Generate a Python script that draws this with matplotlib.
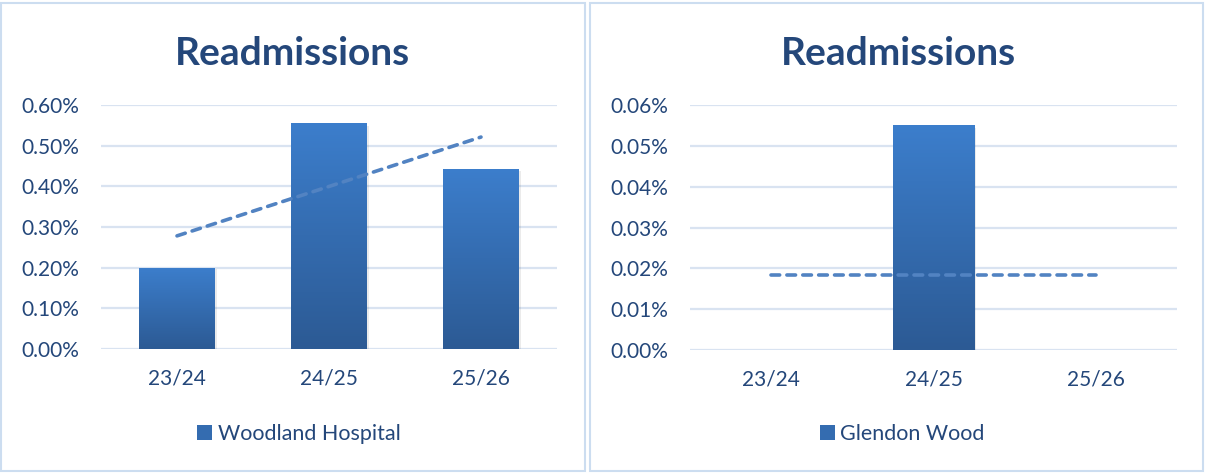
import matplotlib.pyplot as plt
import numpy as np
from matplotlib.patches import Rectangle, Patch
from matplotlib.ticker import FuncFormatter, MultipleLocator

plt.rcParams['font.family'] = ['Lato', 'DejaVu Sans']

# readmission rates, in percent
years = ['23/24', '24/25', '25/26']
woodland = [0.200, 0.556, 0.443]
glendon = [0.0, 0.0551, 0.0]

TEXT = '#24477A'
GRID = '#D9E3F1'
BORDER = '#CCDDF0'
TREND = '#5283C2'
BAR_TOP = np.array([0x3C, 0x7E, 0xCC]) / 255
BAR_BOT = np.array([0x2C, 0x5A, 0x94]) / 255
W, H = 1205, 473


def gradient_bars(ax, x, values, width=0.5):
    bars = ax.bar(x, values, width=width, color='none', zorder=2)
    grad = np.linspace(0, 1, 256)[:, None, None]
    img = BAR_TOP * (1 - grad) + BAR_BOT * grad
    for bar in bars:
        h = bar.get_height()
        if h <= 0:
            continue
        x0 = bar.get_x()
        # faint drop shadow on the right and bottom edges
        ax.add_patch(Rectangle((x0 + 0.012, -h * 0.012), bar.get_width(), h,
                               color='#000000', alpha=0.08, zorder=1.5,
                               lw=0))
        im = ax.imshow(img, extent=(x0, x0 + bar.get_width(), 0, h),
                       aspect='auto', origin='upper', zorder=2)
        im.set_clip_path(bar)
    return bars


def draw_panel(fig, rect, values, step, ymax, label, legend_x):
    ax = fig.add_axes(rect)
    x = np.arange(len(years))
    gradient_bars(ax, x, values)

    # linear trend line across the categories
    slope, intercept = np.polyfit(x, values, 1)
    ax.plot(x[[0, -1]], slope * x[[0, -1]] + intercept, color=TREND,
            lw=2.6, ls=(0, (2.4, 2.0)), dash_capstyle='round', zorder=3)

    ax.set_xlim(-0.5, len(years) - 0.5)
    ax.set_ylim(0, ymax)
    ax.yaxis.set_major_locator(MultipleLocator(step))
    ax.yaxis.set_major_formatter(FuncFormatter(lambda v, _: f'{v:.2f}%'))
    ax.grid(axis='y', color=GRID, lw=1.6, zorder=0)
    ax.set_axisbelow(True)
    for s in ax.spines.values():
        s.set_visible(False)
    ax.set_xticks(x, years)
    ax.tick_params(axis='y', length=0, pad=16, labelsize=15,
                   labelcolor=TEXT)
    ax.tick_params(axis='x', length=0, pad=14, labelsize=15,
                   labelcolor=TEXT)

    handle = Patch(facecolor=(BAR_TOP + BAR_BOT) / 2, edgecolor='none')
    fig.legend([handle], [label], loc='center',
               bbox_to_anchor=(legend_x / W, 39 / H),
               frameon=False, fontsize=15.5, labelcolor=TEXT,
               handlelength=0.7, handleheight=0.7, handletextpad=0.25)
    return ax


fig = plt.figure(figsize=(12.05, 4.73), dpi=100)

# panel frames
for x0, x1 in [(1, 585), (590, 1203)]:
    fig.patches.append(Rectangle((x0 / W, 2 / H), (x1 - x0) / W, 468 / H,
                                 transform=fig.transFigure, fill=False,
                                 edgecolor=BORDER, lw=1.5))

fig.text(292 / W, 420 / H, 'Readmissions', ha='center', va='center',
         fontsize=28, fontweight='bold', color=TEXT)
fig.text(898 / W, 420 / H, 'Readmissions', ha='center', va='center',
         fontsize=28, fontweight='bold', color=TEXT)

draw_panel(fig, [101 / W, 124 / H, 456 / W, 244 / H], woodland,
           0.1, 0.6, 'Woodland Hospital', 299)
draw_panel(fig, [690 / W, 123 / H, 487 / W, 245 / H], glendon,
           0.01, 0.06, 'Glendon Wood', 902)

fig.savefig('out.png', dpi=100)
